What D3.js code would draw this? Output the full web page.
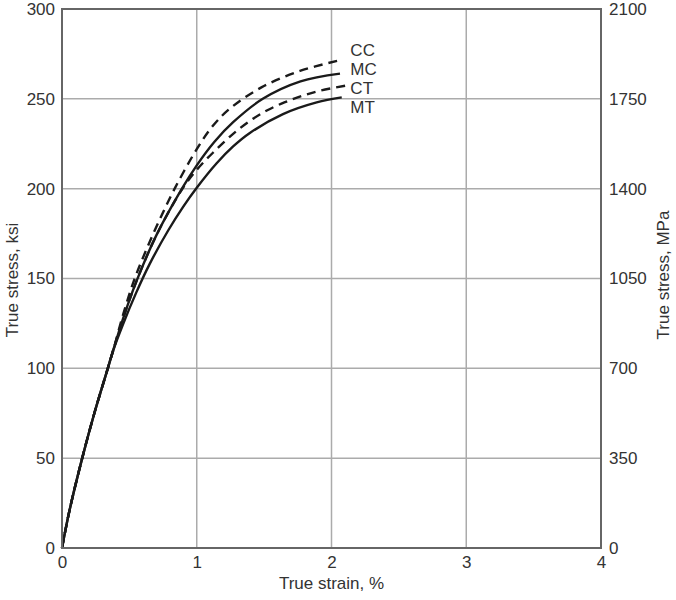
<!DOCTYPE html>
<html>
<head>
<meta charset="utf-8">
<script src="https://cdn.jsdelivr.net/npm/d3@7"></script>
<style>
  body { margin: 0; background: #fff; }
  #chart { width: 676px; height: 600px; }
  text { font-family: "Liberation Sans", Arial, sans-serif; fill: #333; }
</style>
</head>
<body>
<div id="chart"></div>
<script>
// strain in %, stress in ksi
const xTicks = [0, 1, 2, 3, 4];
const yTicksKsi = [0, 50, 100, 150, 200, 250, 300];
const yTicksMpa = [0, 350, 700, 1050, 1400, 1750, 2100];

const seriesNames = ["CC", "MC", "CT", "MT"];
const seriesDashed = [true, false, true, false];

const ccStrain = [0, 0.056, 0.15, 0.24, 0.34, 0.38, 0.45, 0.53, 0.62, 0.72, 0.836, 1.0, 1.12, 1.245, 1.483, 1.766, 2.05];
const ccStress = [0, 21, 50, 75, 100, 110, 129, 148, 165, 182, 200, 222, 235, 244.5, 256.5, 265.5, 271.3];

const mcStrain = [0, 0.056, 0.15, 0.24, 0.34, 0.38, 0.45, 0.55, 0.70, 0.89, 1.0, 1.13, 1.27, 1.49, 1.77, 2.063];
const mcStress = [0, 21, 50, 75, 100, 110, 127, 148, 174, 200, 213, 226, 237, 250, 259.7, 264];

const ctStrain = [0, 0.056, 0.15, 0.24, 0.34, 0.38, 0.45, 0.55, 0.70, 0.89, 1.0, 1.12, 1.27, 1.4, 1.52, 1.65, 1.78, 1.92, 2.11];
const ctStress = [0, 21, 50, 75, 100, 110, 127, 148, 174, 199.5, 210.5, 220, 230.5, 238, 243.5, 248, 251.6, 254.6, 257.4];

const mtStrain = [0, 0.056, 0.15, 0.24, 0.34, 0.38, 0.45, 0.55, 0.65, 0.79, 0.9, 1.0, 1.146, 1.27, 1.394, 1.64, 1.89, 2.076];
const mtStress = [0, 21, 50, 75, 100, 110, 124, 142, 158, 177, 190, 200.5, 214, 223.5, 231, 241.5, 248, 250.8];

const allStrain = [ccStrain, mcStrain, ctStrain, mtStrain];
const allStress = [ccStress, mcStress, ctStress, mtStress];

const margin = { top: 9, left: 62, right: 75, bottom: 52 };
const width = 539, height = 539;

const svg = d3.select("#chart").append("svg")
  .attr("width", 676).attr("height", 600);
const g = svg.append("g").attr("transform", `translate(${margin.left},${margin.top})`);

const x = d3.scaleLinear().domain([0, 4]).range([0, width]);
const y = d3.scaleLinear().domain([0, 300]).range([height, 0]);
const y2 = d3.scaleLinear().domain([0, 2100]).range([height, 0]);

// grid
g.append("g").selectAll("line").data(xTicks.slice(1, -1)).enter().append("line")
  .attr("x1", d => x(d)).attr("x2", d => x(d)).attr("y1", 0).attr("y2", height)
  .attr("stroke", "#ababab").attr("stroke-width", 1.5);
g.append("g").selectAll("line").data(yTicksKsi.slice(1, -1)).enter().append("line")
  .attr("y1", d => y(d)).attr("y2", d => y(d)).attr("x1", 0).attr("x2", width)
  .attr("stroke", "#ababab").attr("stroke-width", 1.5);

// curves
const line = d3.line().x(d => x(d[0])).y(d => y(d[1])).curve(d3.curveCatmullRom.alpha(0.5));
const labelTop = y(ccStress[ccStress.length - 1]) - 11;
seriesNames.forEach((name, i) => {
  const pts = allStrain[i].map((s, j) => [s, allStress[i][j]]);
  g.append("path").datum(pts)
    .attr("d", line)
    .attr("fill", "none")
    .attr("stroke", "#1a1a1a")
    .attr("stroke-width", 2.4)
    .attr("stroke-dasharray", seriesDashed[i] ? "9,6" : null);
  // labels stacked to the right of the curve ends
  g.append("text")
    .attr("x", x(2.14))
    .attr("y", labelTop + i * 19)
    .attr("dy", "0.36em")
    .style("font-size", "17px")
    .text(name);
});

// frame
g.append("rect").attr("width", width).attr("height", height)
  .attr("fill", "none").attr("stroke", "#666").attr("stroke-width", 2);

// axes
const fmt = d3.format("d");
const axL = g.append("g").call(d3.axisLeft(y).tickValues(yTicksKsi).tickFormat(fmt).tickSize(0).tickPadding(7));
const axR = g.append("g").attr("transform", `translate(${width},0)`)
  .call(d3.axisRight(y2).tickValues(yTicksMpa).tickFormat(fmt).tickSize(0).tickPadding(8));
const axB = g.append("g").attr("transform", `translate(0,${height})`)
  .call(d3.axisBottom(x).tickValues(xTicks).tickFormat(fmt).tickSize(0).tickPadding(8));
[axL, axR, axB].forEach(a => {
  a.select(".domain").remove();
  a.selectAll("text").style("font-size", "17px").style("fill", "#333")
    .style("font-family", '"Liberation Sans", Arial, sans-serif');
});

// titles
svg.append("text").attr("x", margin.left + width / 2).attr("y", 589)
  .attr("text-anchor", "middle").style("font-size", "17px").text("True strain, %");
svg.append("text").attr("transform", "translate(18,280) rotate(-90)")
  .attr("text-anchor", "middle").style("font-size", "17px").text("True stress, ksi");
svg.append("text").attr("transform", "translate(669,275) rotate(-90)")
  .attr("text-anchor", "middle").style("font-size", "17px").text("True stress, MPa");
</script>
</body>
</html>
